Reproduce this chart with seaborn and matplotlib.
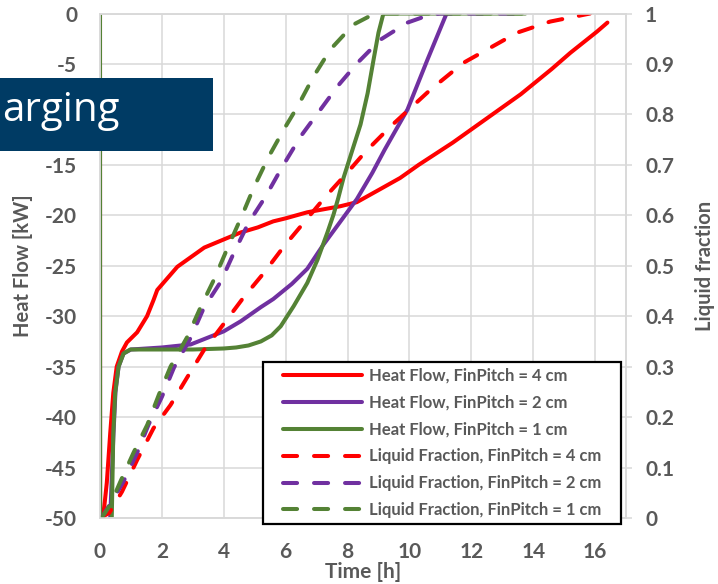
"""
Heat flow and liquid fraction vs time for three fin pitches (charging).
"""

import matplotlib

matplotlib.use("Agg")
import matplotlib.pyplot as plt
from matplotlib.patches import Rectangle
import seaborn as sns

# Heat flow [kW] vs time [h]
t_hf4 = [0, 0.005, 0.1, 0.22, 0.33, 0.43, 0.54, 0.71, 0.87, 1.2, 1.52, 1.73, 1.85, 2.5, 3.37,
         4.23, 4.55, 5.1, 5.6, 6.0, 6.7, 7.77, 8.3, 9.06, 9.7, 10.3, 11.4, 12.5, 13.6, 14.6,
         15.2, 16.06, 16.4]
hf4 = [0, -100, -50, -46.5, -41.6, -37.6, -35, -33.5, -32.6, -31.6, -30.0, -28.4, -27.4, -25.1,
       -23.2, -22.1, -21.7, -21.2, -20.6, -20.3, -19.7, -19.1, -18.7, -17.4, -16.3, -15.0, -12.8,
       -10.4, -8.0, -5.5, -3.9, -1.8, -0.9]

t_hf2 = [0, 0.005, 0.31, 0.33, 0.43, 0.5, 0.6, 0.76, 1.0, 2.0, 2.93, 4.0, 4.55, 5.2, 5.6, 6.2,
         6.7, 7.2, 7.75, 8.3, 8.8, 9.2, 9.94, 10.58, 11.2]
hf2 = [0, -100, -55, -50, -42, -37.5, -35, -33.7, -33.3, -33.1, -32.8, -31.5, -30.5, -29.1,
       -28.3, -26.8, -25.3, -23.0, -20.7, -18.4, -15.8, -13.5, -9.5, -4.6, 0]

t_hf1 = [0, 0.005, 0.37, 0.38, 0.43, 0.49, 0.6, 0.76, 0.98, 2.0, 3.0, 4.0, 4.4, 4.8, 5.2, 5.55,
         5.84, 6.26, 6.7, 7.03, 7.35, 7.55, 7.7, 7.87, 8.16, 8.42, 8.65, 8.84, 9.0, 9.16, 13.75]
hf1 = [0, -100, -55, -50, -41.6, -37.6, -35, -33.7, -33.3, -33.3, -33.3, -33.2, -33.1, -32.9,
       -32.5, -31.9, -31.0, -29.0, -26.7, -24.4, -21.7, -19.9, -18.3, -16.3, -13.5, -11.0, -7.9,
       -4.6, -1.9, 0, 0]

# Liquid fraction [-] vs time [h]
t_lf4 = [0.0, 0.3, 0.71, 1.2, 1.73, 2.28, 2.83, 3.36, 4.1, 4.65, 5.3, 5.94, 6.58, 7.29, 8.0,
         8.58, 9.39, 10.68, 11.74, 13.48, 14.55, 15.84]
lf4 = [0, 0.01, 0.052, 0.115, 0.178, 0.224, 0.28, 0.333, 0.393, 0.438, 0.486, 0.538, 0.585,
       0.637, 0.685, 0.726, 0.776, 0.849, 0.902, 0.962, 0.984, 1.0]

t_lf2 = [0.05, 0.3, 0.75, 1.2, 1.57, 2.0, 2.39, 2.93, 3.36, 3.9, 4.33, 4.8, 5.35, 5.9, 6.48,
         7.13, 7.68, 8.32, 9.06, 9.94, 10.68, 11.0, 13.75]
lf2 = [0, 0.025, 0.071, 0.129, 0.185, 0.24, 0.298, 0.357, 0.417, 0.468, 0.526, 0.585, 0.637,
       0.697, 0.756, 0.81, 0.856, 0.902, 0.948, 0.982, 0.998, 1.0, 1.0]

t_lf1 = [0.05, 0.33, 0.65, 1.08, 1.53, 1.9, 2.28, 2.83, 3.26, 3.68, 4.1, 4.6, 4.97, 5.45, 5.94,
         6.39, 6.9, 7.45, 8.19, 8.88, 13.75]
lf1 = [0, 0.026, 0.071, 0.129, 0.185, 0.244, 0.3, 0.36, 0.419, 0.472, 0.532, 0.601, 0.655,
       0.716, 0.77, 0.816, 0.875, 0.929, 0.978, 1.0, 1.0]

labels = [
    "Heat Flow, FinPitch = 4 cm",
    "Heat Flow, FinPitch = 2 cm",
    "Heat Flow, FinPitch = 1 cm",
    "Liquid Fraction, FinPitch = 4 cm",
    "Liquid Fraction, FinPitch = 2 cm",
    "Liquid Fraction, FinPitch = 1 cm",
]

x_ticks = [0, 2, 4, 6, 8, 10, 12, 14, 16]
hf_ticks = [-50, -45, -40, -35, -30, -25, -20, -15, -10, -5, 0]
lf_ticks = [0, 0.1, 0.2, 0.3, 0.4, 0.5, 0.6, 0.7, 0.8, 0.9, 1]
lf_tick_labels = ["0", "0.1", "0.2", "0.3", "0.4", "0.5", "0.6", "0.7", "0.8", "0.9", "1"]

sns.set_theme(style="white")
plt.rcParams["font.family"] = ["Lato", "DejaVu Sans"]
plt.rcParams["font.weight"] = "bold"
plt.rcParams["axes.labelweight"] = "bold"

GREY = "#595959"
GRID = "#d9d9d9"
RED, PURPLE, GREEN = "#ff0000", "#7030a0", "#548235"
DASH = (0, (3.5, 4.2))
LW = 2.9

fig = plt.figure(figsize=(7.18, 5.84), dpi=100)
ax = fig.add_axes([100 / 718, 1 - 518 / 584, 526 / 718, 504.5 / 584])
ax2 = ax.twinx()

for t, y, c, lab in [(t_hf4, hf4, RED, labels[0]),
                     (t_hf2, hf2, PURPLE, labels[1]),
                     (t_hf1, hf1, GREEN, labels[2])]:
    sns.lineplot(x=t, y=y, ax=ax, color=c, linewidth=LW, sort=False, estimator=None,
                 label=lab, legend=False)

for t, y, c, lab in [(t_lf4, lf4, RED, labels[3]),
                     (t_lf2, lf2, PURPLE, labels[4]),
                     (t_lf1, lf1, GREEN, labels[5])]:
    sns.lineplot(x=t, y=y, ax=ax2, color=c, linewidth=LW, sort=False, estimator=None,
                 label=lab, legend=False, linestyle=DASH, dash_capstyle="round")

ax.set_xlim(0, 17)
ax.set_ylim(-50, 0)
ax2.set_ylim(0, 1)

ax.set_xticks(x_ticks)
ax.set_xticklabels([str(v) for v in x_ticks])
ax.set_yticks(hf_ticks)
ax.set_yticklabels([str(v) for v in hf_ticks])
ax2.set_yticks(lf_ticks)
ax2.set_yticklabels(lf_tick_labels)

ax.grid(True, color=GRID, linewidth=1.1)
ax2.grid(False)
ax.set_axisbelow(True)

ax.tick_params(axis="y", length=0, pad=16.5, labelsize=15, labelcolor=GREY)
ax.tick_params(axis="x", length=0, pad=17, labelsize=15, labelcolor=GREY)
ax2.tick_params(axis="y", length=4.3, width=1.1, color=GRID, direction="out", pad=9.4,
                labelsize=15, labelcolor=GREY)

for a in (ax, ax2):
    for sp in a.spines.values():
        sp.set_color(GRID)
        sp.set_linewidth(1.1)

ax.set_xlabel("Time [h]", fontsize=15, color=GREY)
ax.set_ylabel("Heat Flow [kW]", fontsize=14.5, color=GREY)
ax2.set_ylabel("Liquid fraction", fontsize=14.5, color=GREY)
ax.xaxis.set_label_coords(0.5, -0.088)
ax.yaxis.set_label_coords(-0.127, 0.5)
ax2.yaxis.set_label_coords(1.131, 0.5)

# legend box is drawn on its own so the padding can match the original
box = Rectangle((263 / 718, 1 - 524 / 584), 358 / 718, 162 / 584,
                transform=fig.transFigure, facecolor="white", edgecolor="black",
                linewidth=1.6, zorder=4.9, clip_on=False)
ax2.add_patch(box)

handles = ax.get_lines() + ax2.get_lines()
leg = ax2.legend(handles, labels, loc="upper left",
                 bbox_to_anchor=(283 / 718, 1 - 368 / 584), bbox_transform=fig.transFigure,
                 frameon=False, fontsize=12, handlelength=4.75, handletextpad=0.42,
                 labelspacing=0.65, borderpad=0, borderaxespad=0)
for txt in leg.get_texts():
    txt.set_color(GREY)
    txt.set_fontweight("bold")

# the "Charging" banner cut off at the left edge of the slide
fig.patches.append(Rectangle((0, 1 - 151 / 584), 213 / 718, 73 / 584,
                             transform=fig.transFigure, facecolor="#003b64",
                             edgecolor="none", zorder=10))
fig.text(2 / 718, 1 - 121 / 584, "arging", color="white", fontsize=29,
         family=["Open Sans", "DejaVu Sans"], fontweight="normal",
         ha="left", va="baseline", zorder=11)

fig.savefig("out.png", dpi=100)
